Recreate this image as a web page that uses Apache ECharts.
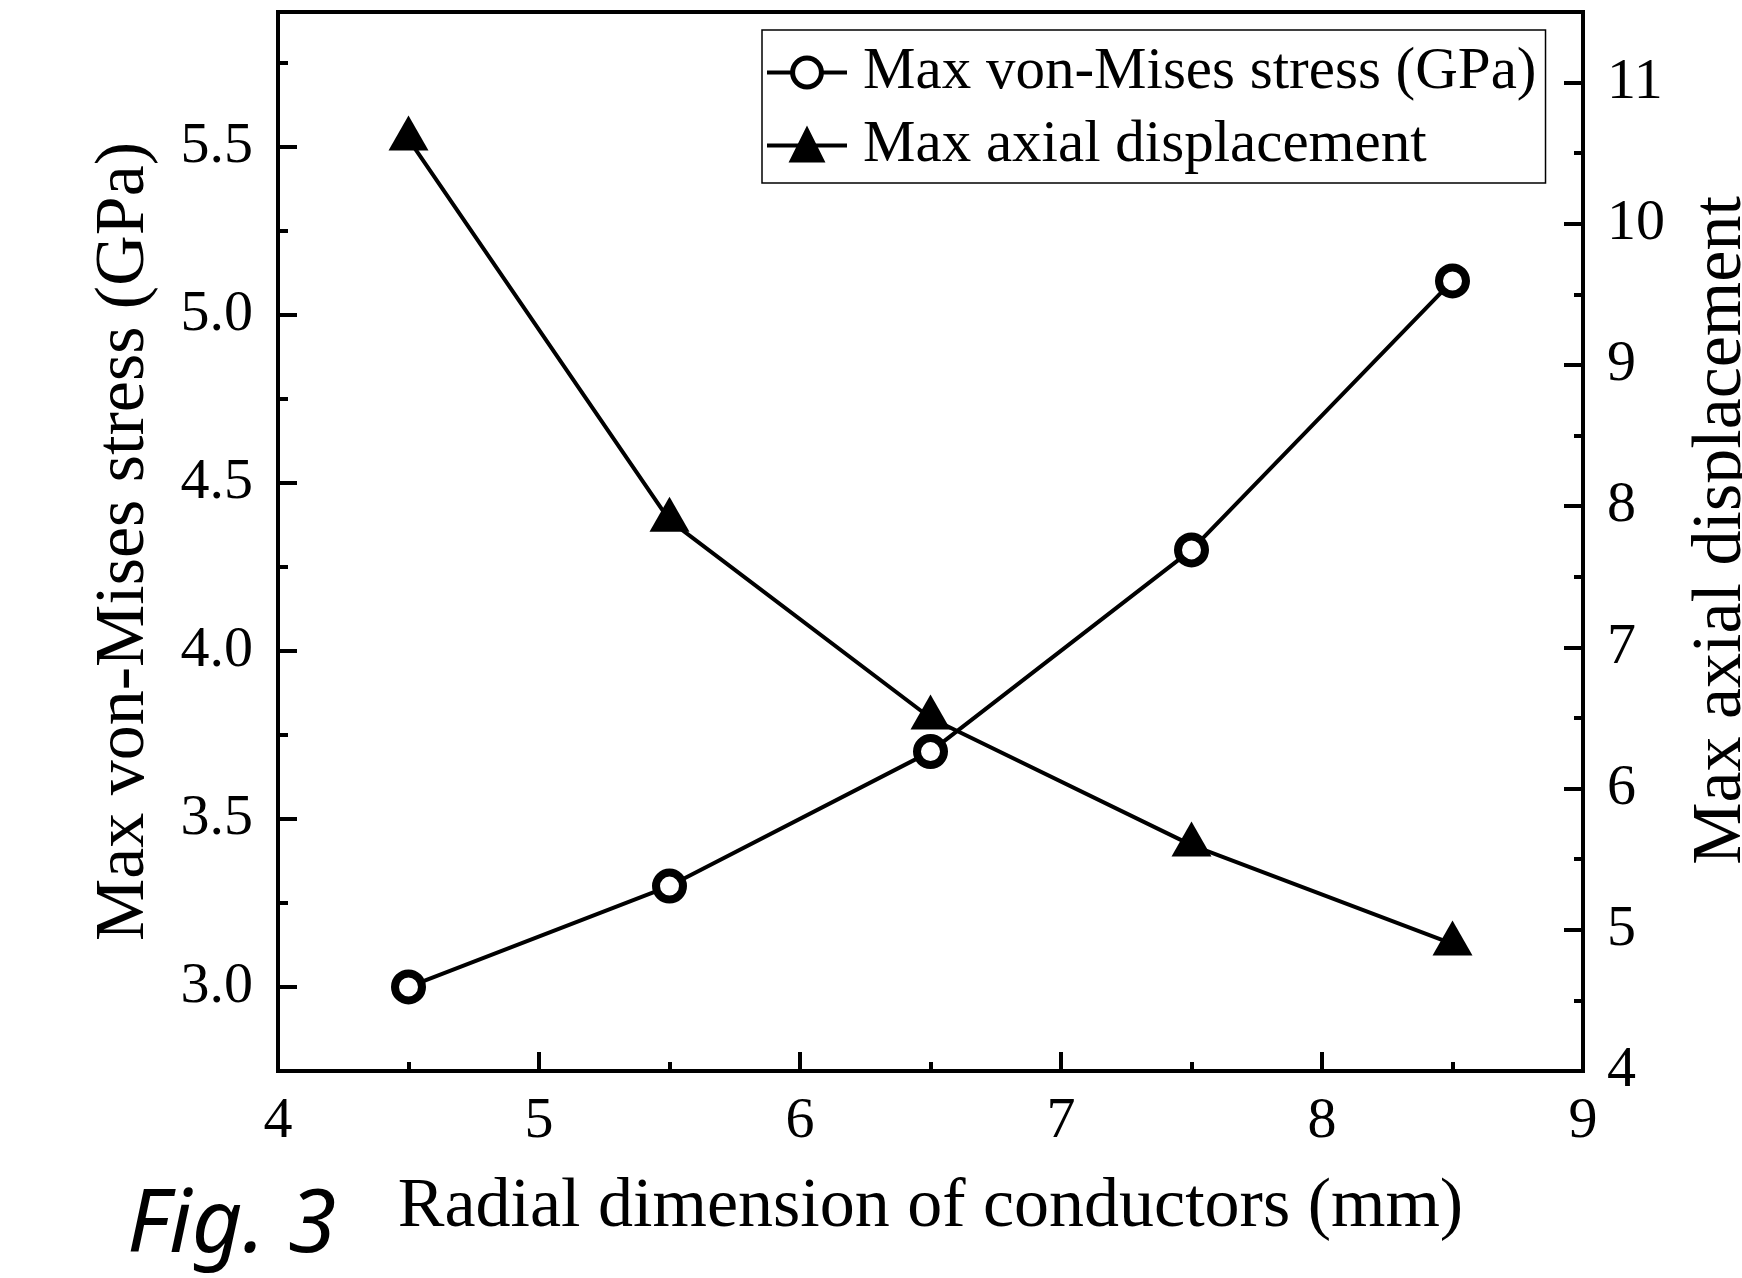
<!DOCTYPE html>
<html>
<head>
<meta charset="utf-8">
<title>Fig. 3</title>
<script src="https://cdn.jsdelivr.net/npm/echarts@6/dist/echarts.min.js"></script>
<style type="text/css">
html, body { margin:0; padding:0; background:#fff; }
#main { width:1742px; height:1278px; }
</style>
</head>
<body>
<div id="main"></div>
<script>
// data
var radial = [4.5, 5.5, 6.5, 7.5, 8.5];                 // mm
var stress = [3.0, 3.3, 3.7, 4.3, 5.1];                  // GPa, left axis
var displacement = [10.6, 7.9, 6.5, 5.6, 4.9];           // right axis

// tick values
var xMajor = [4, 5, 6, 7, 8, 9];
var xMinor = [4.5, 5.5, 6.5, 7.5, 8.5];
var leftMajor = [3.0, 3.5, 4.0, 4.5, 5.0, 5.5];
var leftMinor = [3.25, 3.75, 4.25, 4.75, 5.25, 5.75];
var rightMajor = [4, 5, 6, 7, 8, 9, 10, 11];
var rightMinor = [4.5, 5.5, 6.5, 7.5, 8.5, 9.5, 10.5];

var serif = 'Liberation Serif';
var lineW = 4;

function pairs(xs, ys) {
	return xs.map(function (x, i) { return [x, ys[i]]; });
}

// one axis with only ticks (major or minor), optional labels
function tickAxis(base, values, len, showLabel, margin) {
	var ax = {
		type:'value',
		axisLine:{ show:true, lineStyle:{ color:'#000', width:lineW } },
		axisTick:{ show:true, inside:true, length:len, customValues:values,
			lineStyle:{ color:'#000', width:lineW } },
		axisLabel:{ show:showLabel, customValues:values, margin:margin,
			color:'#000', fontFamily:serif, fontSize:58 },
		splitLine:{ show:false }
	};
	for (var k in base) ax[k] = base[k];
	return ax;
}

var chart = echarts.init(document.getElementById('main'));

var xMain = tickAxis({ min:4, max:9, position:'bottom',
	name:'Radial dimension of conductors (mm)', nameLocation:'middle', nameGap:102,
	nameTextStyle:{ color:'#000', fontFamily:serif, fontSize:70 } }, xMajor, 19, true, 22);
var xSub = tickAxis({ min:4, max:9, position:'bottom' }, xMinor, 9, false, 0);

var yLeft = tickAxis({ min:2.75, max:5.9, position:'left',
	name:'Max von-Mises stress (GPa)', nameLocation:'middle', nameGap:118, nameRotate:90,
	nameTextStyle:{ color:'#000', fontFamily:serif, fontSize:70 } },
	leftMajor, 19, true, 25);
yLeft.axisLabel.formatter = function (v) { return v.toFixed(1); };
var yLeftSub = tickAxis({ min:2.75, max:5.9, position:'left' }, leftMinor, 10, false, 0);

var yRight = tickAxis({ min:4, max:11.5, position:'right',
	name:'Max axial displacement', nameLocation:'middle', nameGap:104, nameRotate:90,
	nameTextStyle:{ color:'#000', fontFamily:serif, fontSize:70, padding:[0, 0, 0, 22] } },
	rightMajor, 19, true, 24);
var yRightSub = tickAxis({ min:4, max:11.5, position:'right' }, rightMinor, 9, false, 0);

var option = {
	animation:false,
	backgroundColor:'#fff',
	grid:{ left:278, top:12, right:159, bottom:207, show:true, outerBoundsMode:'none',
		containLabel:false,
		borderColor:'#000', borderWidth:lineW, backgroundColor:'transparent' },
	legend:{
		left:762, top:30, orient:'vertical',
		itemWidth:80, itemHeight:36, itemGap:14,
		padding:[13, 9, 8, 3],
		borderColor:'#000', borderWidth:1.5,
		lineStyle:{ width:lineW, color:'#000' },
		itemStyle:{ borderWidth:5, borderColor:'#000' },
		textStyle:{ color:'#000', fontFamily:serif, fontSize:59, padding:[0, 0, 0, 11] },
		data:['Max von-Mises stress (GPa)', 'Max axial displacement']
	},
	xAxis:[xMain, xSub],
	yAxis:[yLeft, yLeftSub, yRight, yRightSub],
	graphic:[{
		type:'text', left:127, top:1183,
		style:{ text:'Fig. 3', fill:'#000', font:'italic 88px "Noto Sans"' }
	}],
	series:[{
		name:'Max von-Mises stress (GPa)',
		type:'line', xAxisIndex:0, yAxisIndex:0,
		data:pairs(radial, stress),
		symbol:'circle', symbolSize:27,
		itemStyle:{ color:'#fff', borderColor:'#000', borderWidth:8 },
		lineStyle:{ color:'#000', width:lineW },
		z:3
	}, {
		name:'Max axial displacement',
		type:'line', xAxisIndex:0, yAxisIndex:2,
		data:pairs(radial, displacement),
		symbol:'triangle', symbolSize:[40, 35], symbolOffset:[0, -6],
		itemStyle:{ color:'#000' },
		lineStyle:{ color:'#000', width:lineW },
		z:2
	}]
};

chart.setOption(option);
</script>
</body>
</html>
